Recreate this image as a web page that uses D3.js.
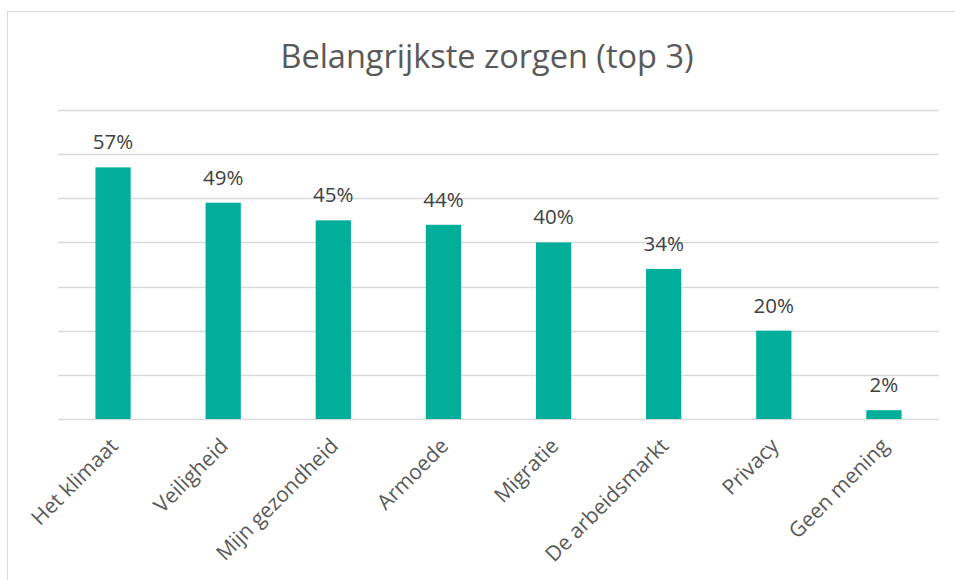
<!DOCTYPE html>
<html>
<head>
<meta charset="utf-8">
<script src="https://cdn.jsdelivr.net/npm/d3@7"></script>
<style>
  body { margin: 0; background: #fff; }
  svg { display: block; font-family: "Open Sans", sans-serif; }
</style>
</head>
<body>
<svg id="chart"></svg>
<script>
const categories = ["Het klimaat", "Veiligheid", "Mijn gezondheid", "Armoede", "Migratie", "De arbeidsmarkt", "Privacy", "Geen mening"];
const values = [57, 49, 45, 44, 40, 34, 20, 2];
const gridTicks = [0, 10, 20, 30, 40, 50, 60, 70];

const width = 955, height = 580;
const margin = { top: 110, right: 16, bottom: 161, left: 58 };

const svg = d3.select("#chart").attr("width", width).attr("height", height);

// chart frame
svg.append("rect")
    .attr("x", 7.5).attr("y", 11.5)
    .attr("width", 960).attr("height", 600)
    .attr("fill", "none")
    .attr("stroke", "#d9d9d9")
    .attr("stroke-width", 1);

svg.append("text")
    .attr("x", 487).attr("y", 68)
    .attr("text-anchor", "middle")
    .style("font-size", "32.5px")
    .style("fill", "#595959")
    .text("Belangrijkste zorgen (top 3)");

const x = d3.scaleBand()
    .domain(categories)
    .range([margin.left, width - margin.right])
    .paddingInner(0.68)
    .paddingOuter(0.34);

const y = d3.scaleLinear()
    .domain([0, 70])
    .range([height - margin.bottom, margin.top]);

// gridlines
svg.append("g")
    .selectAll("line")
    .data(gridTicks)
    .join("line")
    .attr("x1", margin.left)
    .attr("x2", width - margin.right)
    .attr("y1", d => Math.round(y(d)) + 0.5)
    .attr("y2", d => Math.round(y(d)) + 0.5)
    .attr("stroke", "#d9d9d9")
    .attr("stroke-width", 1.5);

// bars
svg.append("g")
    .selectAll("rect")
    .data(values)
    .join("rect")
    .attr("x", (d, i) => x(categories[i]))
    .attr("width", x.bandwidth())
    .attr("y", d => y(d))
    .attr("height", d => y(0) - y(d))
    .attr("fill", "#00ae9a");

// value labels
svg.append("g")
    .selectAll("text")
    .data(values)
    .join("text")
    .attr("x", (d, i) => x(categories[i]) + x.bandwidth() / 2)
    .attr("y", d => y(d) - 18)
    .attr("text-anchor", "middle")
    .style("font-size", "20.5px")
    .style("fill", "#404040")
    .text(d => d + "%");

// category labels
svg.append("g")
    .selectAll("text")
    .data(categories)
    .join("text")
    .attr("transform", d => `translate(${x(d) + x.bandwidth() / 2 + 1},${y(0) + 23}) rotate(-45)`)
    .attr("text-anchor", "end")
    .attr("dy", "0.35em")
    .style("font-size", "21px")
    .style("fill", "#595959")
    .text(d => d);
</script>
</body>
</html>
